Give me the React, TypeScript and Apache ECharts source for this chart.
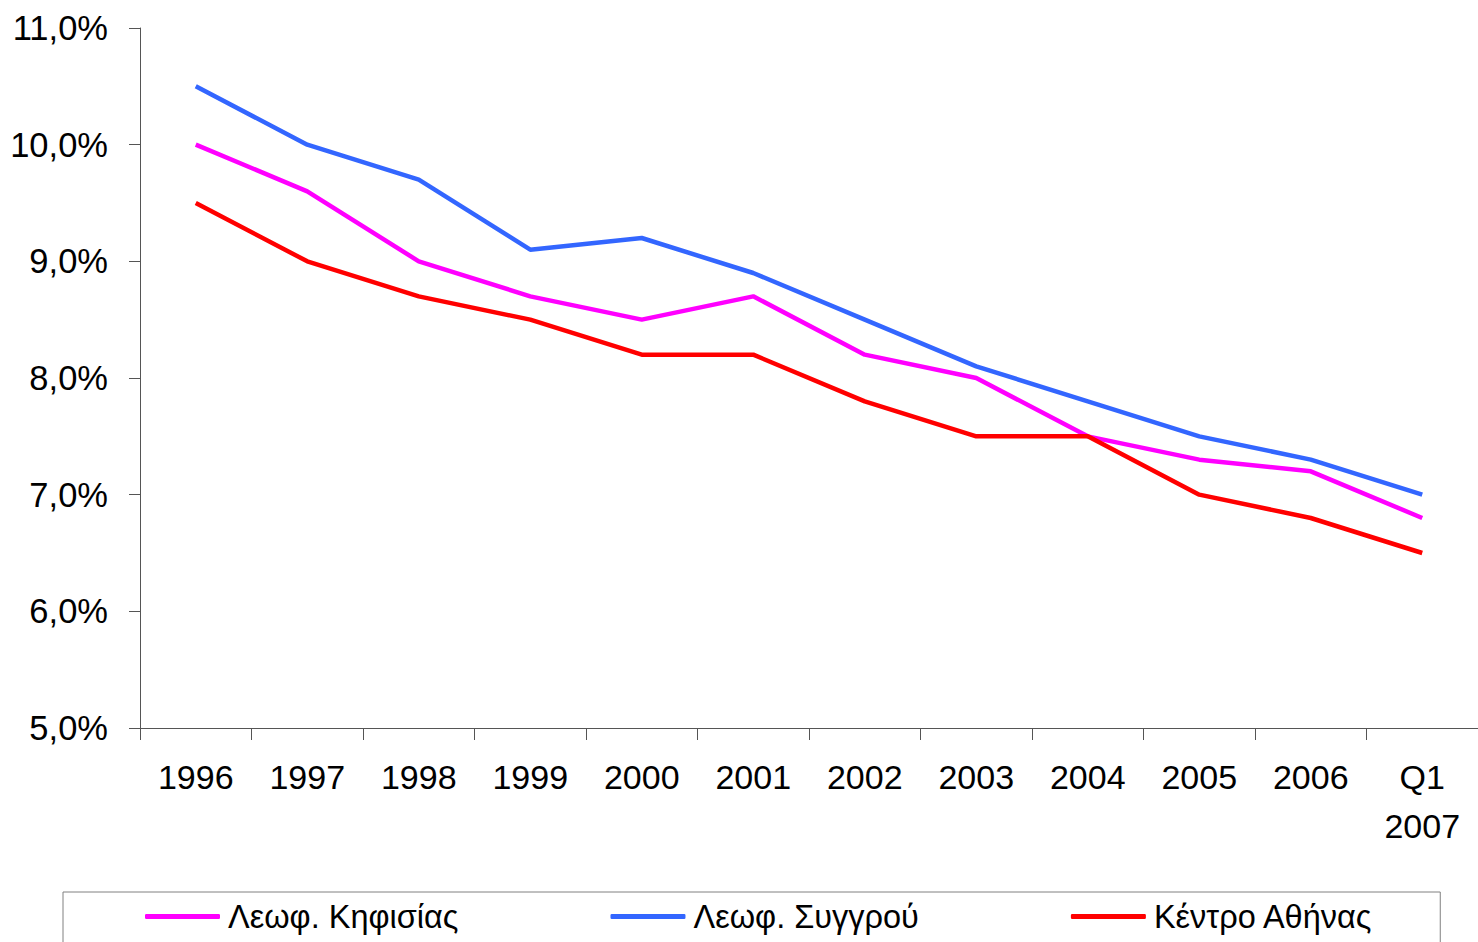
import React, { useEffect, useRef } from "react";
import * as echarts from "echarts";

const categories = ["1996", "1997", "1998", "1999", "2000", "2001", "2002", "2003", "2004", "2005", "2006", "Q1\n2007"];
const kifisias = [10.0, 9.6, 9.0, 8.7, 8.5, 8.7, 8.2, 8.0, 7.5, 7.3, 7.2, 6.8];
const syggrou = [10.5, 10.0, 9.7, 9.1, 9.2, 8.9, 8.5, 8.1, 7.8, 7.5, 7.3, 7.0];
const kentro = [9.5, 9.0, 8.7, 8.5, 8.2, 8.2, 7.8, 7.5, 7.5, 7.0, 6.8, 6.5];
const seriesNames = ["Λεωφ. Κηφισίας", "Λεωφ. Συγγρού", "Κέντρο Αθήνας"];
const seriesColors = ["#FF00FF", "#3366FF", "#FF0000"];
const seriesData = [kifisias, syggrou, kentro];

export default function App() {
  const ref = useRef<HTMLDivElement>(null);
  useEffect(() => {
    if (!ref.current) return;
    const chart = echarts.init(ref.current, null, { renderer: "svg" });
    const font = "'Liberation Sans', Arial, sans-serif";
    chart.setOption({
      animation: false,
      backgroundColor: "#ffffff",
      grid: { left: 140, top: 28, right: 0, height: 700, containLabel: false },
      xAxis: {
        type: "category",
        data: categories,
        boundaryGap: true,
        axisLine: { show: true, lineStyle: { color: "#555555", width: 1 } },
        axisTick: { show: true, alignWithLabel: false, interval: 0, length: 12, lineStyle: { color: "#555555" } },
        axisLabel: {
          interval: 0,
          margin: 24,
          color: "#000000",
          fontFamily: font,
          fontSize: 34,
          lineHeight: 49,
        },
        splitLine: { show: false },
      },
      yAxis: {
        type: "value",
        min: 5,
        max: 11,
        interval: 1,
        axisLine: { show: true, lineStyle: { color: "#555555", width: 1 } },
        axisTick: { show: true, length: 11, lineStyle: { color: "#555555" } },
        axisLabel: {
          margin: 32,
          color: "#000000",
          fontFamily: font,
          fontSize: 34.5,
          formatter: (v: number) => v.toFixed(1).replace(".", ",") + "%",
        },
        splitLine: { show: false },
      },
      legend: {
        left: 63,
        top: 892,
        padding: [8, 67, 40, 82],
        itemGap: 152,
        itemWidth: 75,
        itemHeight: 5,
        icon: "roundRect",
        borderColor: "#808080",
        borderWidth: 1,
        textStyle: { color: "#000000", fontFamily: font, fontSize: 32.5, padding: [0, 0, 0, 3] },
        data: seriesNames,
      },
      series: seriesNames.map((name, i) => ({
        name,
        type: "line",
        data: seriesData[i],
        symbol: "none",
        lineStyle: { color: seriesColors[i], width: 4.5 },
        itemStyle: { color: seriesColors[i] },
      })),
    });
    return () => chart.dispose();
  }, []);
  return (
    <div
      ref={ref}
      style={{ position: "absolute", left: 0, top: 0, width: 1478, height: 942 }}
    />
  );
}
